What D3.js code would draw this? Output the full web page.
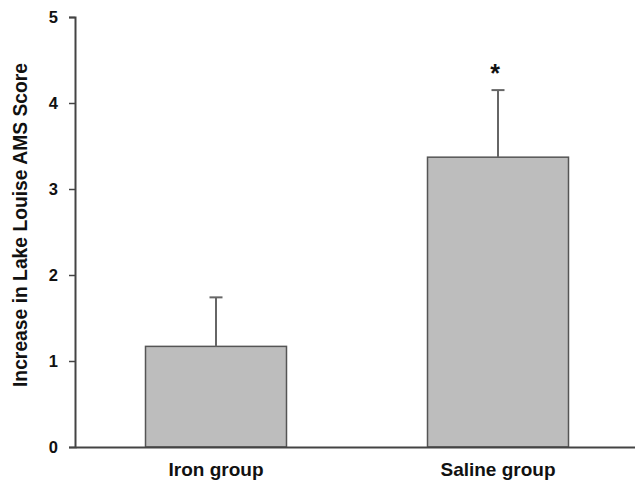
<!DOCTYPE html>
<html><head><meta charset="utf-8">
<script src="https://cdn.jsdelivr.net/npm/d3@7"></script>
<style>body{margin:0;background:#fff}</style>
</head><body>
<svg id="c" width="635" height="481"></svg>
<script>
const categories = ["Iron group", "Saline group"];
const means = [1.17, 3.37];
const errors = [0.57, 0.78];
const yTicks = [0, 1, 2, 3, 4, 5];
const significance = ["", "*"];

const svg = d3.select("#c");
const font = "Arial, 'Liberation Sans', Helvetica, sans-serif";
const x = d3.scaleBand().domain(categories).range([75, 639]).paddingInner(0.5).paddingOuter(0.25);
const y = d3.scaleLinear().domain([0, 5]).range([447, 17]);

// bars
svg.selectAll("rect.bar").data(categories).enter().append("rect")
  .attr("x", d => x(d)).attr("width", x.bandwidth())
  .attr("y", (d, i) => y(means[i])).attr("height", (d, i) => y(0) - y(means[i]))
  .attr("fill", "#bdbdbd").attr("stroke", "#555").attr("stroke-width", 1.5);

// error bars
const eb = svg.append("g").attr("stroke", "#666").attr("stroke-width", 2);
categories.forEach((c, i) => {
  const cx = x(c) + x.bandwidth() / 2;
  eb.append("line").attr("x1", cx).attr("x2", cx).attr("y1", y(means[i])).attr("y2", y(means[i] + errors[i]));
  eb.append("line").attr("x1", cx - 6.5).attr("x2", cx + 6.5).attr("y1", y(means[i] + errors[i])).attr("y2", y(means[i] + errors[i]));
  if (significance[i]) {
    svg.append("text").attr("x", cx - 3).attr("y", y(means[i] + errors[i]) - 8)
      .attr("text-anchor", "middle").attr("font-family", font).attr("font-weight", "bold")
      .attr("font-size", 25).attr("fill", "#111").text(significance[i]);
  }
});

// y axis
const ya = svg.append("g").attr("transform", "translate(75,0)")
  .call(d3.axisLeft(y).tickValues(yTicks).tickSize(6).tickPadding(11).tickFormat(d3.format("d")));
ya.select(".domain").attr("stroke", "#444").attr("stroke-width", 2);
ya.selectAll(".tick line").attr("stroke", "#444").attr("stroke-width", 1.5);
ya.selectAll("text").attr("font-family", font).attr("font-weight", "bold").attr("font-size", 16.5).attr("fill", "#111");

// x axis
const xa = svg.append("g").attr("transform", "translate(0,447)")
  .call(d3.axisBottom(x).tickSize(0).tickPadding(16));
xa.select(".domain").attr("stroke", "#444").attr("stroke-width", 2);
xa.selectAll("text").attr("font-family", font).attr("font-weight", "bold").attr("font-size", 19).attr("fill", "#111");

// y title
svg.append("text").attr("transform", "translate(27,225) rotate(-90)")
  .attr("text-anchor", "middle").attr("font-family", font).attr("font-weight", "bold")
  .attr("font-size", 19.3).attr("fill", "#111").text("Increase in Lake Louise AMS Score");
</script>
</body></html>
